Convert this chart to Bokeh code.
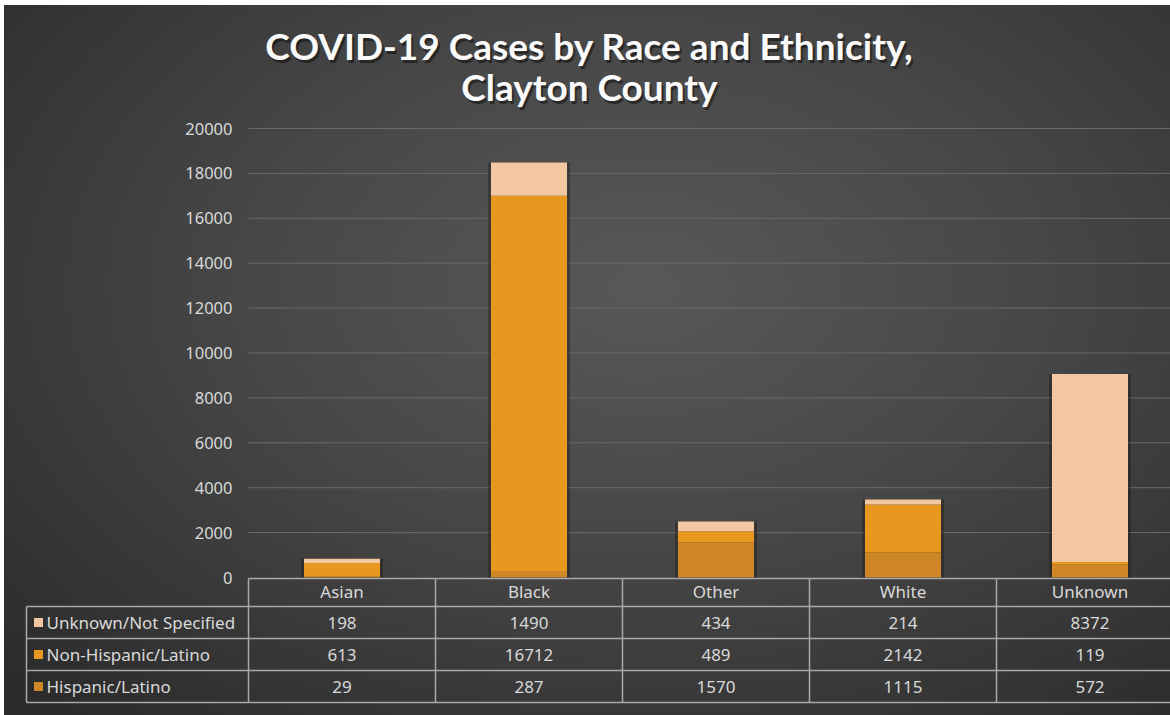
from bokeh.plotting import figure
from bokeh.models import Range1d, ColumnDataSource
from bokeh.core.properties import value
from bokeh.embed import file_html
from bokeh.resources import INLINE

# ---- data ----
categories = ["Asian", "Black", "Other", "White", "Unknown"]
hispanic = [29, 287, 1570, 1115, 572]
non_hispanic = [613, 16712, 489, 2142, 119]
unknown_ns = [198, 1490, 434, 214, 8372]
series_names = ["Unknown/Not Specified", "Non-Hispanic/Latino", "Hispanic/Latino"]
y_ticks = [0, 2000, 4000, 6000, 8000, 10000, 12000, 14000, 16000, 18000, 20000]
title_lines = ["COVID-19 Cases by Race and Ethnicity,", "Clayton County"]

# ---- styling / layout ----
COL_H = "#CF8626"
COL_NH = "#E9981F"
COL_U = "#F3C7A1"
TXT = "#d9d9d9"
LINE = "#a9a9a9"
FONT = "Noto Sans"
FS = "17px"

W, H = 1170, 715
X0, COLW = 248, 187.0        # pixel x of first column start, column width
Y0, PX_PER = 577, 449 / 20000.0


def dx(px):
    return (px - X0) / COLW


def dy(py):
    return (Y0 - py) / PX_PER


p = figure(width=W, height=H, output_backend="svg", toolbar_location=None,
           x_range=Range1d(dx(0), dx(W)),
           y_range=Range1d(dy(H), dy(0)),
           x_axis_location=None, y_axis_location=None, min_border=0)
p.grid.visible = False
p.outline_line_color = None
p.background_fill_alpha = 0
p.border_fill_alpha = 0
p.styles = {"background":
            "linear-gradient(#ffffff, #ffffff) 0 0 / 4px 100% no-repeat, "
            "linear-gradient(#ffffff, #ffffff) 0 0 / 100% 5px no-repeat, "
            "radial-gradient(ellipse 75% 80% at 55% 40%, #585858 0%, #474747 45%, #2b2b2b 100%)"}

x_right = dx(W)

# gridlines
gy = y_ticks[1:]
p.segment(x0=[0] * len(gy), x1=[x_right] * len(gy), y0=gy, y1=gy,
          line_color="#6a6a6a", line_width=1)

# y tick labels
p.text(x=[dx(232)] * len(y_ticks), y=y_ticks, text=[str(t) for t in y_ticks],
       text_align="right", text_baseline="middle", text_color=TXT,
       text_font=value(FONT), text_font_size="16.5px")

# bars (with soft dark shadow behind)
xs = [i + 0.5 for i in range(len(categories))]
totals = [a + b + c for a, b, c in zip(hispanic, non_hispanic, unknown_ns)]
bw = 76 / COLW
p.vbar(x=xs, top=totals, bottom=0, width=bw + 6 / COLW, color="#1e1a16", alpha=0.4, line_color=None)
src = ColumnDataSource(dict(x=xs, h=hispanic, nh=non_hispanic, u=unknown_ns))
p.vbar_stack(["h", "nh", "u"], x="x", width=bw, source=src,
             color=[COL_H, COL_NH, COL_U], line_color=None)

# title with shadow
for line, py in zip(title_lines, [45, 86]):
    p.text(x=[dx(589)], y=[dy(py)], text=[line], text_align="center",
           text_baseline="middle", text_color="black", text_alpha=0.45,
           x_offset=2, y_offset=3,
           text_font=value("Lato"), text_font_style="bold", text_font_size="37px")
    p.text(x=[dx(589)], y=[dy(py)], text=[line], text_align="center",
           text_baseline="middle", text_color="#fafafa",
           text_font=value("Lato"), text_font_style="bold", text_font_size="37px")

# data table
ncol = len(categories)
row_tops = [606, 638, 670]
row_bot = 702
p.segment(x0=[0], x1=[x_right], y0=[dy(578)], y1=[dy(578)], line_color=LINE, line_width=1.5)
hl_y = [dy(v) for v in row_tops + [row_bot]]
p.segment(x0=[dx(26)] * 4, x1=[x_right] * 4, y0=hl_y, y1=hl_y, line_color=LINE, line_width=1.5)
vx = [float(i) for i in range(ncol)]
p.segment(x0=vx, x1=vx, y0=[dy(578)] * ncol, y1=[dy(row_bot)] * ncol, line_color=LINE, line_width=1.5)
p.segment(x0=[dx(26)], x1=[dx(26)], y0=[dy(606)], y1=[dy(row_bot)], line_color=LINE, line_width=1.5)

p.text(x=xs, y=[dy(591)] * ncol, text=categories, text_align="center", text_baseline="middle",
       text_color=TXT, text_font=value(FONT), text_font_size=FS)

rows = [unknown_ns, non_hispanic, hispanic]
colors = [COL_U, COL_NH, COL_H]
for r, (vals, name, c) in enumerate(zip(rows, series_names, colors)):
    yc = dy(row_tops[r] + 16)
    p.text(x=xs, y=[yc] * ncol, text=[str(v) for v in vals], text_align="center",
           text_baseline="middle", text_color=TXT, text_font=value(FONT), text_font_size=FS)
    p.scatter(x=[dx(38)], y=[yc], marker="square", size=9, color=c, line_color=None)
    p.text(x=[dx(46)], y=[yc], text=[name], text_align="left", text_baseline="middle",
           text_color=TXT, text_font=value(FONT), text_font_size=FS)

open("out.html", "w").write(file_html(p, INLINE))
